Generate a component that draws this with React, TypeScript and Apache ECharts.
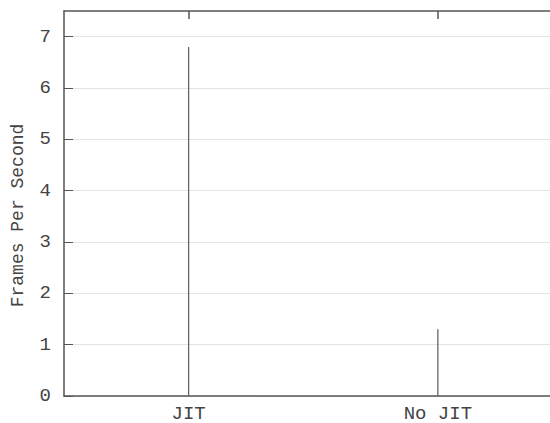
import React, { useEffect, useRef } from "react";
import * as echarts from "echarts";

const categories = ["JIT", "No JIT"];
const fps = [6.8, 1.3];
const yTicks = [0, 1, 2, 3, 4, 5, 6, 7];

const FONT = "Liberation Mono";
const TEXT = "#444";
const AXIS = "#555";

export default function App() {
  const ref = useRef<HTMLDivElement>(null);
  useEffect(() => {
    const chart = echarts.init(ref.current!, null, { renderer: "svg" });
    const xPos = categories.map((_, i) => i);
    chart.setOption({
      animation: false,
      backgroundColor: "#fff",
      grid: { left: 64, right: 0, top: 11, bottom: 27, outerBoundsMode: "none", containLabel: false },
      xAxis: [
        {
          type: "value",
          position: "bottom",
          min: -0.5,
          max: 1.45,
          axisLine: { show: true, onZero: false, lineStyle: { color: AXIS, width: 1.5 } },
          axisTick: { show: false },
          axisLabel: {
            show: true,
            customValues: xPos,
            formatter: (v: number) => categories[Math.round(v)] ?? "",
            fontFamily: FONT,
            fontSize: 19,
            color: TEXT,
            margin: 8,
          },
          splitLine: { show: false },
        },
        {
          type: "value",
          position: "top",
          min: -0.5,
          max: 1.45,
          axisLine: { show: true, onZero: false, lineStyle: { color: AXIS, width: 1.5 } },
          axisTick: { show: true, inside: true, length: 8, customValues: xPos, lineStyle: { color: AXIS, width: 1.5 } },
          axisLabel: { show: false },
          splitLine: { show: false },
        },
      ],
      yAxis: {
        type: "value",
        min: 0,
        max: 7.5,
        interval: 1,
        name: "Frames Per Second",
        nameLocation: "middle",
        nameGap: 37,
        nameRotate: 90,
        nameTextStyle: { fontFamily: FONT, fontSize: 18, color: TEXT, padding: [0, 24, 0, 0] },
        axisLine: { show: true, onZero: false, lineStyle: { color: AXIS, width: 1.5 } },
        axisTick: { show: true, inside: true, length: 9, customValues: yTicks, lineStyle: { color: AXIS } },
        axisLabel: {
          customValues: yTicks,
          fontFamily: FONT,
          fontSize: 19,
          color: TEXT,
          margin: 13,
        },
        splitLine: { show: true, lineStyle: { color: "#e4e4e4", width: 1 } },
      },
      series: [
        {
          type: "bar",
          xAxisIndex: 0,
          data: fps.map((v, i) => [i, v]),
          barWidth: 1.3,
          itemStyle: { color: "#666" },
        },
      ],
    });
    return () => chart.dispose();
  }, []);
  return <div ref={ref} style={{ position: "absolute", left: 0, top: 0, width: 550, height: 423 }} />;
}
